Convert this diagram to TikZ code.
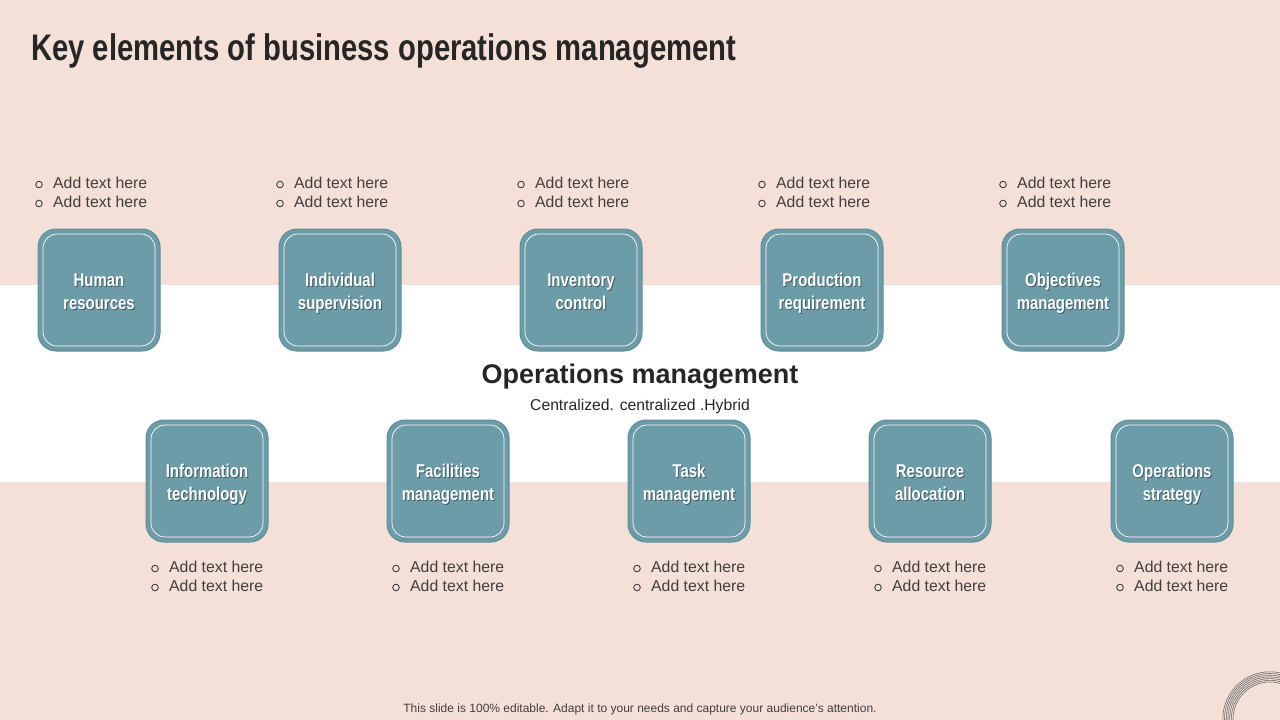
\documentclass[tikz,border=0pt]{standalone}
\usepackage{fontspec}
\setmainfont{Liberation Sans}
\newfontfamily\titlefont{Liberation Sans}[FakeStretch=0.79]
\newfontfamily\labelfont{Liberation Sans}[FakeStretch=0.81]
\usetikzlibrary{calc}
\definecolor{bgpink}{HTML}{F4E0D6}
\definecolor{tealbox}{HTML}{6B9CA7}
\definecolor{tealedge}{HTML}{5E8E99}
\definecolor{txtdark}{HTML}{262626}
\definecolor{txtgray}{HTML}{404040}
\tikzset{
  elembox/.style={fill=tealbox, draw=tealedge, line width=1pt, rounded corners=18pt, minimum width=122pt, minimum height=122pt, inner sep=0pt},
  innerline/.style={draw=white, line width=0.7pt, rounded corners=14pt, minimum width=112pt, minimum height=112pt, inner sep=0pt},
  boxlabel/.style={text=white, anchor=base, font=\labelfont\bfseries\fontsize{18.5}{23}\selectfont, inner sep=0pt},
  boxshadow/.style={text=black, opacity=0.4, anchor=base, font=\labelfont\bfseries\fontsize{18.5}{23}\selectfont, inner sep=0pt},
  bultext/.style={text=txtgray, font=\fontsize{15.8}{19}\selectfont, anchor=base west, inner sep=0pt},
  bulmark/.style={draw=txtgray, line width=0.9pt},
}
\begin{document}
\begin{tikzpicture}[x=1pt,y=-1pt]
\useasboundingbox (0,0) rectangle (1280,720);
\fill[bgpink] (0,0) rectangle (1280,720);
\fill[white] (0,285) rectangle (1280,482);

% title
\node[anchor=base west, inner sep=0pt, text=txtdark, font=\titlefont\bfseries\fontsize{37}{40}\selectfont] (title) at (31,60) {Key elements of business operations management};

% top row
\foreach \cx/\nm/\la/\lb in {99/hr/Human/resources, 340/is/Individual/supervision, 581/ic/Inventory/control, 822/pr/Production/requirement, 1063/om/Objectives/management}{
  \node[elembox] (\nm) at (\cx,290) {};
  \node[innerline] (\nm-in) at (\cx,290) {};
  \node[boxshadow] (\nm-sa) at ($(\cx,286)+(1,1.5)$) {\la};
  \node[boxshadow] (\nm-sb) at ($(\cx,309)+(1,1.5)$) {\lb};
  \node[boxlabel] (\nm-la) at (\cx,286) {\la};
  \node[boxlabel] (\nm-lb) at (\cx,309) {\lb};
  \draw[bulmark] ($(\cx,184.5)+(-60,0)$) circle (3.3);
  \draw[bulmark] ($(\cx,203.5)+(-60,0)$) circle (3.3);
  \node[bultext] (\nm-t1) at ($(\cx,188.5)+(-46,0)$) {Add text here};
  \node[bultext] (\nm-t2) at ($(\cx,207.5)+(-46,0)$) {Add text here};
}

% bottom row
\foreach \cx/\nm/\la/\lb in {207/it/Information/technology, 448/fm/Facilities/management, 689/tm/Task/management, 930/ra/Resource/allocation, 1172/os/Operations/strategy}{
  \node[elembox] (\nm) at (\cx,481) {};
  \node[innerline] (\nm-in) at (\cx,481) {};
  \node[boxshadow] (\nm-sa) at ($(\cx,477)+(1,1.5)$) {\la};
  \node[boxshadow] (\nm-sb) at ($(\cx,500)+(1,1.5)$) {\lb};
  \node[boxlabel] (\nm-la) at (\cx,477) {\la};
  \node[boxlabel] (\nm-lb) at (\cx,500) {\lb};
  \draw[bulmark] ($(\cx,568.5)+(-52,0)$) circle (3.3);
  \draw[bulmark] ($(\cx,587.5)+(-52,0)$) circle (3.3);
  \node[bultext] (\nm-t1) at ($(\cx,572.5)+(-38,0)$) {Add text here};
  \node[bultext] (\nm-t2) at ($(\cx,591.5)+(-38,0)$) {Add text here};
}

% centre
\node[text=txtdark, inner sep=0pt, anchor=base, font=\bfseries\fontsize{27}{30}\selectfont] (center) at (640,383) {Operations management};
\node[text=txtdark, inner sep=0pt, anchor=base, font=\fontsize{15.7}{18}\selectfont] (sub) at (640,410) {Centralized. centralized .Hybrid};

% footer
\node[text=txtgray, inner sep=0pt, anchor=base, font=\fontsize{12}{14}\selectfont] (footer) at (640,712) {This slide is 100\% editable. Adapt it to your needs and capture your audience's attention.};

% decorative arcs
\begin{scope}
\clip (0,0) rectangle (1280,720);
\foreach \r in {37,38.7,40.4,42.1,43.8,45.5,47.2}{
  \draw[gray!85!black, line width=0.6pt] (1270,719) circle (\r);
}
\end{scope}
\end{tikzpicture}
\end{document}
